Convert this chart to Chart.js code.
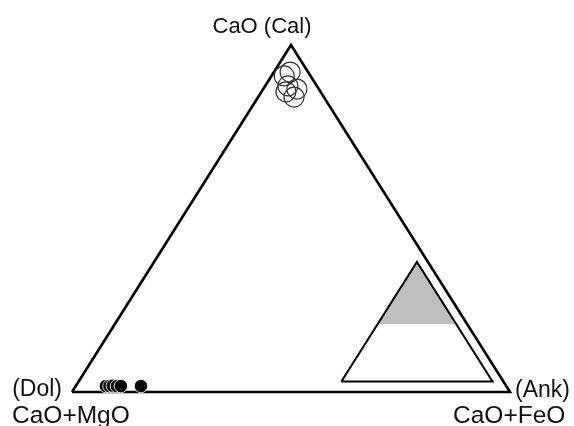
<!DOCTYPE html>
<html>
<head>
<meta charset="utf-8">
<script src="https://cdn.jsdelivr.net/npm/chart.js"></script>
<style>
  html, body { margin: 0; padding: 0; background: #fff; }
  #c { display: block; }
</style>
</head>
<body>
<canvas id="c" width="574" height="426"></canvas>
<script>
// ternary compositions in percent: CaO (Cal), CaO+MgO (Dol), CaO+FeO (Ank)
const calciteCal = [91.1, 92.2, 88.2, 87.3, 85.0, 86.5];
const calciteAnk = [2.9, 3.7, 5.2, 7.7, 8.2, 5.6];

const dolomiteCal = [1.7, 1.7, 1.8, 1.7, 1.7, 1.7];
const dolomiteAnk = [6.9, 7.7, 8.4, 9.4, 10.3, 14.9];

// Ank field: sub-triangle (Cal, Ank) vertices and shaded upper part
const fieldCal = [3, 37.5, 3, 3];
const fieldAnk = [60, 60, 94.5, 60];
const shadeCal = [19.5, 37.5, 19.5];
const shadeAnk = [60, 60, 78];

const frameCal = [0, 0, 100, 0];
const frameAnk = [0, 100, 0, 0];

// ternary -> cartesian (x along base, y = CaO fraction)
function tern(cal, ank) {
  return cal.map((c, i) => ({ x: (ank[i] + c / 2) / 100, y: c / 100 }));
}

// vertex labels
const labelPlugin = {
  id: 'labels',
  afterDraw(chart) {
    const { ctx, scales: { x, y } } = chart;
    const px = v => x.getPixelForValue(v), py = v => y.getPixelForValue(v);
    ctx.save();
    ctx.fillStyle = '#111';
    ctx.textBaseline = 'alphabetic';
    ctx.font = '22px "Liberation Sans", Arial, sans-serif';
    ctx.textAlign = 'center';
    ctx.fillText('CaO (Cal)', px(0.5) - 29, py(1) - 12);
    ctx.font = '23px "Liberation Sans", Arial, sans-serif';
    ctx.textAlign = 'right';
    ctx.fillText('(Dol)', px(0) - 10, py(0) + 4);
    ctx.textAlign = 'left';
    ctx.fillText('(Ank)', px(1) + 5, py(0) + 5);
    ctx.font = '24.5px "Liberation Sans", Arial, sans-serif';
    ctx.textAlign = 'left';
    ctx.fillText('CaO+MgO', 12, py(0) + 31);
    ctx.fillText('CaO+FeO', 453, py(0) + 31);
    ctx.restore();
  }
};

new Chart(document.getElementById('c'), {
  type: 'scatter',
  data: {
    datasets: [
      {
        label: 'Calcite',
        data: tern(calciteCal, calciteAnk),
        pointRadius: 10,
        pointBackgroundColor: 'rgba(0,0,0,0)',
        pointBorderColor: '#333',
        pointBorderWidth: 1.2,
        showLine: false,
        order: 0
      },
      {
        label: 'Dolomite',
        data: tern(dolomiteCal, dolomiteAnk),
        pointRadius: 6.7,
        pointBackgroundColor: '#000',
        pointBorderColor: 'rgba(255,255,255,0.85)',
        pointBorderWidth: 1,
        showLine: false,
        order: 0
      },
      {
        label: 'frame',
        data: tern(frameCal, frameAnk),
        showLine: true,
        borderColor: '#000',
        borderWidth: 2.6,
        pointRadius: 0,
        fill: false,
        order: 1
      },
      {
        label: 'field',
        data: tern(fieldCal, fieldAnk),
        showLine: true,
        borderColor: '#000',
        borderWidth: 2,
        pointRadius: 0,
        fill: false,
        order: 1
      },
      {
        label: 'shade',
        data: tern(shadeCal, shadeAnk),
        showLine: true,
        borderWidth: 0,
        borderColor: 'rgba(0,0,0,0)',
        backgroundColor: '#bebebe',
        pointRadius: 0,
        fill: { value: 0.195 },
        order: 2
      }
    ]
  },
  options: {
    responsive: false,
    animation: false,
    layout: { padding: 0, autoPadding: false },
    plugins: {
      legend: { display: false },
      tooltip: { enabled: false },
      title: { display: false }
    },
    scales: {
      x: { type: 'linear', display: false, min: -72 / 438, max: 502 / 438 },
      y: { type: 'linear', display: false, min: -34 / 347, max: 392 / 347 }
    }
  },
  plugins: [labelPlugin]
});
</script>
</body>
</html>
